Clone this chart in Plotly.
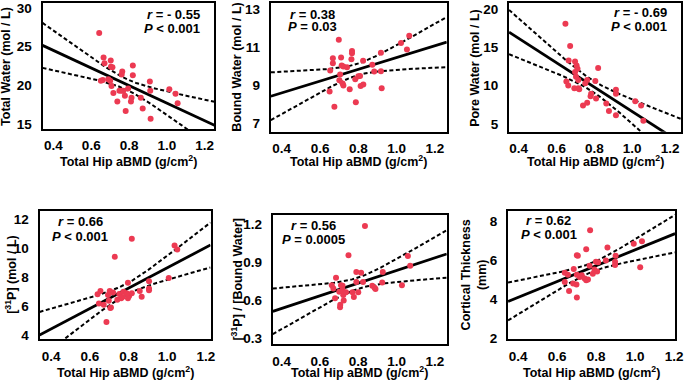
import numpy as np
import plotly.graph_objects as go

# ---------------- data ----------------
x_tick_vals = [0.4, 0.6, 0.8, 1.0, 1.2]
x_tick_text = ["0.4", "0.6", "0.8", "1.0", "1.2"]

tw_bmd = [0.642, 0.665, 0.670, 0.703, 0.704, 0.712, 0.764, 0.761, 0.820, 0.820, 0.651, 0.661,
          0.690, 0.700, 0.707, 0.717, 0.738, 0.749, 0.761, 0.770, 0.778, 0.782, 0.795, 0.810,
          0.813, 0.862, 0.872, 0.910, 0.912, 0.914, 1.013, 1.046, 1.057]
tw_val = [26.76, 23.6, 22.86, 23.2, 22.4, 22.35, 21.8, 21.4, 22.56, 21.3, 20.6, 20.7,
          20.8, 20.6, 19.9, 19.0, 17.9, 19.3, 19.3, 19.3, 18.65, 16.7, 19.6, 17.9,
          18.4, 18.4, 17.0, 20.5, 19.3, 15.7, 19.5, 18.9, 17.7]

bw_bmd = [0.698, 0.667, 0.667, 0.653, 0.710, 0.713, 0.722, 0.767, 0.767, 0.764, 0.741, 0.705,
          0.701, 0.718, 0.722, 0.755, 0.650, 0.675, 0.784, 0.800, 0.809, 0.812, 0.826, 0.787,
          0.825, 0.873, 0.883, 0.918, 0.918, 0.922, 1.023, 1.054, 1.066]
bw_val = [11.38, 10.41, 10.14, 9.76, 10.44, 10.02, 9.98, 10.79, 10.67, 10.36, 9.93, 9.56,
          9.25, 9.08, 8.98, 8.78, 8.66, 7.86, 9.30, 9.46, 9.47, 8.95, 9.03, 8.09,
          10.27, 10.07, 9.71, 10.70, 9.73, 8.83, 11.21, 10.87, 11.59]

pw_bmd = [0.647, 0.672, 0.664, 0.698, 0.706, 0.711, 0.698, 0.703, 0.715, 0.652, 0.662, 0.694,
          0.715, 0.720, 0.752, 0.762, 0.805, 0.820, 0.783, 0.780, 0.762, 0.740, 0.809, 0.863,
          0.877, 0.914, 0.914, 0.914, 1.016, 1.047, 1.059]
pw_val = [18.09, 15.2, 13.29, 13.16, 12.65, 12.23, 11.8, 11.17, 10.74, 10.57, 10.02, 9.68,
          9.68, 9.55, 10.32, 10.74, 10.61, 12.31, 8.96, 8.62, 7.77, 7.43, 8.32, 7.69,
          6.71, 9.47, 8.96, 6.16, 7.98, 7.43, 5.44]

p31_bmd = [0.817, 0.729, 1.038, 1.052, 0.686, 0.640, 0.655, 0.647, 0.672, 0.694, 0.703, 0.698,
           0.706, 0.709, 0.742, 0.752, 0.769, 0.774, 0.762, 0.797, 0.803, 0.817, 0.797, 0.858,
           0.868, 0.906, 0.906, 0.906, 1.008, 0.720, 0.790]
p31_val = [10.66, 9.41, 10.19, 9.92, 4.94, 6.84, 7.06, 6.21, 6.12, 6.79, 7.06, 6.39,
           5.90, 5.94, 6.46, 6.86, 6.66, 7.02, 6.57, 7.64, 6.73, 6.91, 6.57, 7.06,
           6.68, 7.73, 7.24, 7.11, 7.96, 6.97, 6.91]

ratio_bmd = [0.835, 0.749, 1.059, 1.071, 0.790, 0.815, 0.928, 0.684, 0.662, 0.670, 0.710, 0.718,
             0.679, 0.718, 0.722, 0.724, 0.706, 0.705, 0.770, 0.777, 0.790, 0.825, 0.873, 0.885,
             0.890, 0.925, 1.028, 0.701, 0.736, 0.800]
ratio_val = [1.185, 0.953, 0.948, 0.871, 0.820, 0.814, 0.820, 0.776, 0.717, 0.691, 0.717, 0.712,
             0.614, 0.678, 0.640, 0.596, 0.562, 0.542, 0.660, 0.624, 0.742, 0.742, 0.712, 0.696,
             0.686, 0.737, 0.717, 0.665, 0.660, 0.660]

ct_bmd = [0.769, 0.749, 0.858, 0.701, 0.706, 0.993, 1.035, 1.026, 0.639, 0.655, 0.639, 0.661,
          0.701, 0.685, 0.682, 0.699, 0.716, 0.726, 0.741, 0.749, 0.758, 0.766, 0.783, 0.791,
          0.799, 0.810, 0.805, 0.850, 0.900, 0.897, 0.897, 0.701]
ct_val = [7.55, 6.57, 6.66, 6.27, 6.24, 6.86, 6.99, 5.65, 5.36, 5.26, 4.89, 4.42,
          4.08, 5.56, 4.81, 4.76, 5.14, 5.23, 5.06, 4.97, 5.02, 5.73, 5.31, 5.53,
          5.93, 5.90, 5.43, 6.00, 6.24, 5.93, 5.76, 5.26]

y_titles = ["Total Water (mol / L)", "Bound Water (mol / L)", "Pore Water (mol / L)",
            "[<sup>31</sup>P] (mol / L)", "[<sup>31</sup>P] / [Bound Water]",
            "Cortical Thickness<br>(mm)"]
x_title = "Total Hip aBMD (g/cm<sup>2</sup>)"
r_texts = ["<i>r</i> = - 0.55", "<i>r</i> = 0.38", "<i>r</i> = - 0.69",
           "<i>r</i> = 0.66", "<i>r</i> = 0.56", "<i>r</i> = 0.62"]
p_texts = ["<i>P</i> < 0.001", "<i>P</i> = 0.03", "<i>P</i> < 0.001",
           "<i>P</i> < 0.001", "<i>P</i> = 0.0005", "<i>P</i> < 0.001"]
y_tick_vals = [[15, 20, 25, 30], [7, 9, 11, 13], [5, 10, 15, 20],
               [4, 6, 8, 10, 12], [0.3, 0.6, 0.9, 1.2], [2, 4, 6, 8]]
y_tick_text = [["15", "20", "25", "30"], ["7", "9", "11", "13"], ["5", "10", "15", "20"],
               ["4", "6", "8", "10", "12"], ["0.3", "0.6", "0.9", "1.2"], ["2", "4", "6", "8"]]

# ---------------- layout (pixels) ----------------
W, H = 691, 383
FONT = "Liberation Sans, Arial, sans-serif"
RED = "#EC3A52"
T_CRIT = 2.04

panels = [
    dict(xs=tw_bmd, ys=tw_val, px=(43, 217), py=(1, 130), xr=(0.342, 1.252), yr=(14.37, 30.63),
         ytx=6, ann=(204, 13, 27, "right")),
    dict(xs=bw_bmd, ys=bw_val, px=(274, 452), py=(1, 133), xr=(0.343, 1.262), yr=(6.54, 13.31),
         ytx=240, ann=(316, 13, 25, "center")),
    dict(xs=pw_bmd, ys=pw_val, px=(515, 689), py=(1, 133), xr=(0.349, 1.258), yr=(3.98, 20.8),
         ytx=481, ann=(677, 11, 25, "right")),
    dict(xs=p31_bmd, ys=p31_val, px=(40, 213), py=(214, 345), xr=(0.340, 1.224), yr=(3.78, 12.56),
         ytx=11, ann=(81, 225, 240, "center")),
    dict(xs=ratio_bmd, ys=ratio_val, px=(276, 452), py=(218, 350), xr=(0.354, 1.262), yr=(0.254, 1.272),
         ytx=240, ann=(317, 229, 243, "center")),
    dict(xs=ct_bmd, ys=ct_val, px=(514, 683), py=(214, 345), xr=(0.348, 1.205), yr=(1.95, 8.55),
         ytx=479, ann=(555, 224, 238, "center")),
]

fig = go.Figure()
annotations = []
for i, p in enumerate(panels):
    k = "" if i == 0 else str(i + 1)
    xa, ya = "x" + k, "y" + k
    x = np.array(p["xs"])
    y = np.array(p["ys"])
    n = len(x)
    slope, icpt = np.polyfit(x, y, 1)
    resid = y - (slope * x + icpt)
    s = np.sqrt(np.sum(resid ** 2) / (n - 2))
    xbar = x.mean()
    sxx = np.sum((x - xbar) ** 2)
    xl = np.linspace(p["xr"][0], p["xr"][1], 80)
    yl = slope * xl + icpt
    half = T_CRIT * s * np.sqrt(1.0 / n + (xl - xbar) ** 2 / sxx)

    for band in (yl + half, yl - half):
        fig.add_trace(go.Scatter(x=xl, y=band, mode="lines", xaxis=xa, yaxis=ya,
                                 line=dict(color="black", width=2, dash="4px,2.5px"),
                                 showlegend=False, hoverinfo="skip"))
    fig.add_trace(go.Scatter(x=xl, y=yl, mode="lines", xaxis=xa, yaxis=ya,
                             line=dict(color="black", width=2.8), showlegend=False,
                             hoverinfo="skip"))
    fig.add_trace(go.Scatter(x=x, y=y, mode="markers", xaxis=xa, yaxis=ya,
                             marker=dict(color=RED, size=6, line=dict(width=0)),
                             showlegend=False, cliponaxis=False))

    bottom_row = i >= 3
    dom_x = [p["px"][0] / W, p["px"][1] / W]
    dom_y = [1 - p["py"][1] / H, 1 - p["py"][0] / H]
    axis_common = dict(showline=True, mirror=True, linecolor="black", linewidth=2,
                       showgrid=False, zeroline=False, ticks="", ticklen=0,
                       ticklabeloverflow="allow",
                       tickfont=dict(family=FONT, size=13.5, color="black", weight="bold"))
    fig.layout["xaxis" + k] = dict(domain=dom_x, range=list(p["xr"]), anchor=ya,
                                   tickvals=x_tick_vals, ticktext=x_tick_text,
                                   ticklabelstandoff=4 if bottom_row else 3, **axis_common)
    fig.layout["yaxis" + k] = dict(domain=dom_y, range=list(p["yr"]), anchor=xa,
                                   tickvals=y_tick_vals[i], ticktext=y_tick_text[i],
                                   ticklabelstandoff=6, **axis_common)

    # axis titles
    cx = (p["px"][0] + p["px"][1]) / 2
    cy = (p["py"][0] + p["py"][1]) / 2
    xt_y = 379 if bottom_row else 163
    annotations.append(dict(x=cx / W, y=1 - xt_y / H, xref="paper", yref="paper",
                            text=x_title, showarrow=False, xanchor="center", yanchor="middle",
                            font=dict(family=FONT, size=12.5, color="black", weight="bold")))
    annotations.append(dict(x=p["ytx"] / W, y=1 - cy / H, xref="paper", yref="paper",
                            text=y_titles[i], showarrow=False, textangle=-90,
                            xanchor="center", yanchor="middle",
                            font=dict(family=FONT, size=12.5, color="black", weight="bold")))
    ax, ay1, ay2, al = p["ann"]
    xanc = "right" if al == "right" else "center"
    for txt, yy in ((r_texts[i], ay1), (p_texts[i], ay2)):
        annotations.append(dict(x=ax / W, y=1 - yy / H, xref="paper", yref="paper",
                                text=txt, showarrow=False, xanchor=xanc, yanchor="middle",
                                font=dict(family=FONT, size=13, color="black", weight="bold")))

fig.update_layout(width=W, height=H, margin=dict(l=0, r=0, t=0, b=0),
                  paper_bgcolor="white", plot_bgcolor="white",
                  annotations=annotations, showlegend=False)

fig.write_html("out.html", config={"displayModeBar": False},
               post_script="document.body.style.margin='0';")
